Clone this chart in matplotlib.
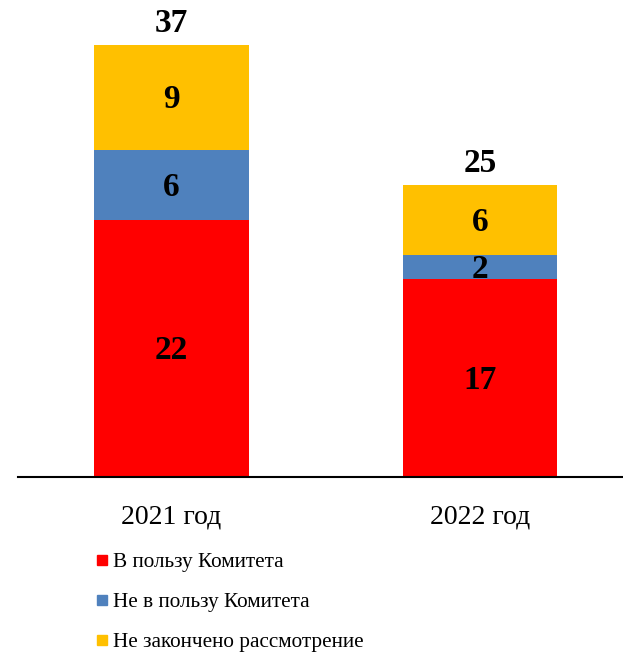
import numpy as np
import matplotlib.pyplot as plt
from matplotlib.lines import Line2D

plt.rcParams['font.family'] = ['Liberation Serif', 'DejaVu Serif']

# data
years = ['2021 год', '2022 год']
in_favor = [22, 17]
not_in_favor = [6, 2]
not_finished = [9, 6]
series_names = ['В пользу Комитета', 'Не в пользу Комитета', 'Не закончено рассмотрение']
colors = ['#FF0000', '#4F81BD', '#FFC000']

fig = plt.figure(figsize=(6.23, 6.54), dpi=100)
ax = fig.add_axes([18 / 623, 1 - 477 / 654, 1 - 18 / 623, (477 - 10) / 654])

x = np.arange(len(years))
bottom = np.zeros(len(years))
for vals, col in zip([in_favor, not_in_favor, not_finished], colors):
    ax.bar(x, vals, width=0.502, bottom=bottom, color=col)
    for xi, b, v in zip(x, bottom, vals):
        ax.text(xi, b + v / 2 - 0.2, str(v), ha='center', va='center',
                fontsize=24, fontweight='bold')
    bottom += np.array(vals)

for xi, tot in zip(x, bottom):
    ax.text(xi, tot + 0.5, str(int(tot)), ha='center', va='bottom',
            fontsize=24, fontweight='bold')

ax.set_xlim(-0.4976, 1.4635)
ax.set_ylim(0, 40)
ax.set_xticks(x)
ax.set_xticklabels(years, fontsize=20)
ax.tick_params(axis='x', length=0, pad=20)
ax.set_yticks([])
for s in ['top', 'right', 'left']:
    ax.spines[s].set_visible(False)
ax.spines['bottom'].set_linewidth(1.5)

handles = [Line2D([], [], marker='s', linestyle='', color=c, markersize=7.5)
           for c in colors]
fig.legend(handles, series_names, loc='upper left', bbox_to_anchor=(83 / 623, 1 - 544 / 654),
           frameon=False, fontsize=15.3, handletextpad=0.0, labelspacing=0.95,
           handlelength=1.0, borderaxespad=0)

fig.savefig('out.png', dpi=100)
